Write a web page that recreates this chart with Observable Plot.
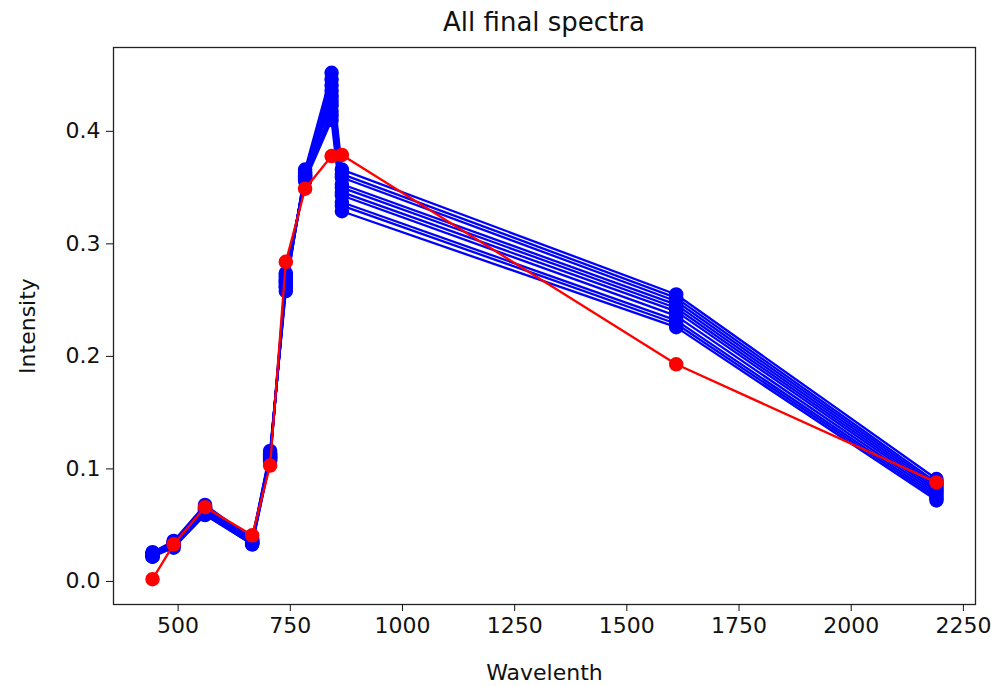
<!DOCTYPE html>
<html>
<head>
<meta charset="utf-8">
<script src="https://cdn.jsdelivr.net/npm/d3@7"></script>
<script src="https://cdn.jsdelivr.net/npm/@observablehq/plot@0.6"></script>
<style>
  html, body { margin: 0; padding: 0; background: #fff; }
  #wrap { position: relative; width: 991px; height: 686px; font-family: "DejaVu Sans", sans-serif; }
  #title { position: absolute; left: 113px; width: 862px; top: 7px; text-align: center; font-size: 26px; color: #111; }
</style>
</head>
<body>
<div id="wrap"><div id="title">All final spectra</div></div>
<script>
// Sentinel-2 band wavelengths (nm)
const wavelengths = [443, 490, 560, 665, 705, 740, 783, 842, 865, 1610, 2190];

// Blue spectra (one array per spectrum)
const blue1  = [0.024, 0.034, 0.066, 0.036, 0.116, 0.258, 0.366, 0.452, 0.366, 0.255, 0.091];
const blue2  = [0.023, 0.033, 0.064, 0.035, 0.114, 0.261, 0.364, 0.446, 0.362, 0.252, 0.088];
const blue3  = [0.025, 0.035, 0.067, 0.037, 0.112, 0.264, 0.363, 0.441, 0.359, 0.249, 0.086];
const blue4  = [0.022, 0.032, 0.062, 0.034, 0.110, 0.266, 0.361, 0.436, 0.353, 0.246, 0.084];
const blue5  = [0.024, 0.034, 0.065, 0.036, 0.109, 0.268, 0.360, 0.431, 0.350, 0.243, 0.082];
const blue6  = [0.023, 0.031, 0.060, 0.033, 0.108, 0.270, 0.359, 0.427, 0.346, 0.240, 0.080];
const blue7  = [0.026, 0.036, 0.068, 0.038, 0.113, 0.262, 0.362, 0.423, 0.343, 0.236, 0.078];
const blue8  = [0.022, 0.030, 0.059, 0.033, 0.107, 0.272, 0.358, 0.418, 0.337, 0.232, 0.076];
const blue9  = [0.024, 0.033, 0.063, 0.035, 0.111, 0.267, 0.357, 0.414, 0.334, 0.229, 0.074];
const blue10 = [0.023, 0.032, 0.061, 0.034, 0.110, 0.274, 0.356, 0.410, 0.329, 0.226, 0.072];

// Red spectrum
const red = [0.002, 0.033, 0.066, 0.041, 0.103, 0.284, 0.349, 0.378, 0.379, 0.193, 0.088];

const xTicks = [500, 750, 1000, 1250, 1500, 1750, 2000, 2250];
const yTicks = [0.0, 0.1, 0.2, 0.3, 0.4];

const blueSeries = [blue1, blue2, blue3, blue4, blue5, blue6, blue7, blue8, blue9, blue10];
const blueData = blueSeries.flatMap((s, i) => s.map((v, j) => ({id: i, x: wavelengths[j], y: v})));
const redData = red.map((v, j) => ({x: wavelengths[j], y: v}));

const chart = Plot.plot({
  width: 991,
  height: 686,
  marginLeft: 113,
  marginRight: 16,
  marginTop: 47,
  marginBottom: 82,
  style: {fontFamily: "DejaVu Sans, sans-serif", fontSize: "22px", color: "#111", background: "transparent"},
  x: {domain: [356, 2277]},
  y: {domain: [-0.0205, 0.4745]},
  marks: [
    Plot.frame({stroke: "#222", strokeWidth: 1.3}),
    Plot.axisX({ticks: xTicks, tickSize: 7, tickPadding: 6, tickFormat: d => String(d), label: "Wavelenth", labelAnchor: "center", labelOffset: 75, labelArrow: "none", fontSize: 22}),
    Plot.axisY({ticks: yTicks, tickSize: 7, tickPadding: 6, tickFormat: d => d.toFixed(1), label: "Intensity", labelAnchor: "center", labelOffset: 94, labelArrow: "none", fontSize: 22}),
    Plot.line(blueData, {x: "x", y: "y", z: "id", stroke: "#0000ff", strokeWidth: 2.3}),
    Plot.dot(blueData, {x: "x", y: "y", r: 6.5, fill: "#0000ff", stroke: "#0000ff"}),
    Plot.line(redData, {x: "x", y: "y", stroke: "#ff0000", strokeWidth: 2.3}),
    Plot.dot(redData, {x: "x", y: "y", r: 6.5, fill: "#ff0000", stroke: "#ff0000"})
  ]
});
document.getElementById("wrap").appendChild(chart);
</script>
</body>
</html>
